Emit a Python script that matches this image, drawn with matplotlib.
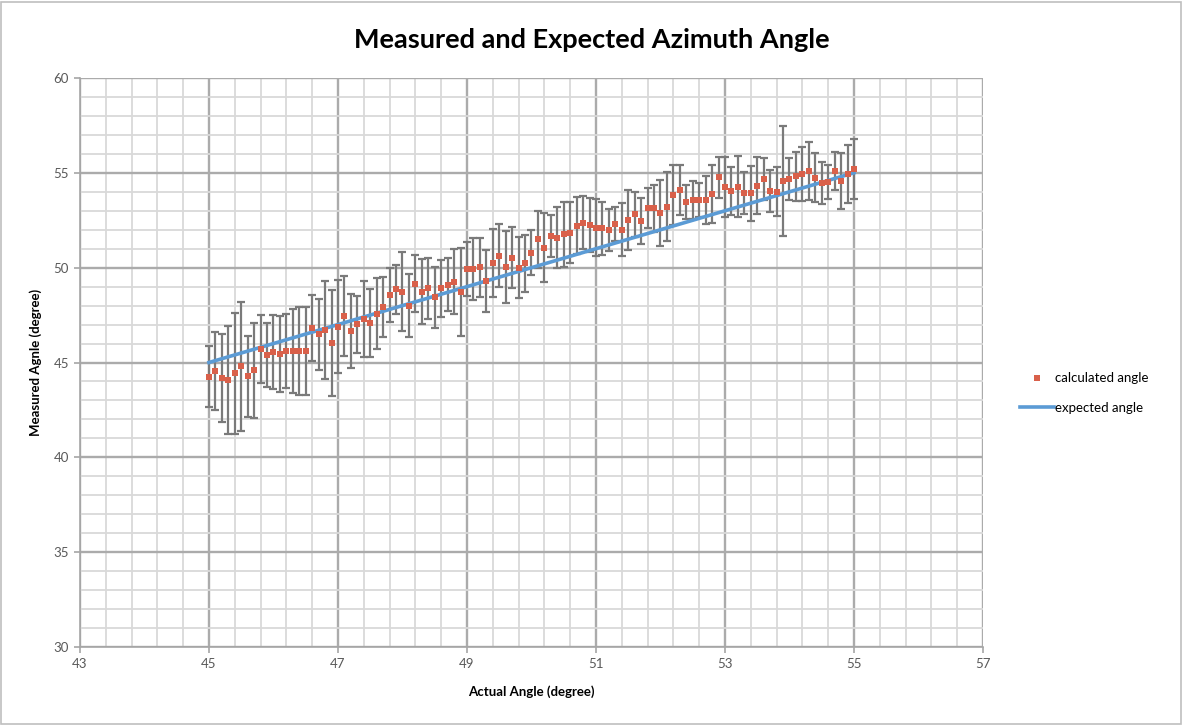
import matplotlib
matplotlib.use("Agg")
import matplotlib.pyplot as plt
from matplotlib.patches import Rectangle
from matplotlib.ticker import MultipleLocator

plt.rcParams['font.family'] = ['Lato', 'DejaVu Sans']

# actual angle (degree), one reading every 0.1 degree
actual = [45.0, 45.1, 45.2, 45.3, 45.4, 45.5, 45.6, 45.7, 45.8, 45.9,
          46.0, 46.1, 46.2, 46.3, 46.4, 46.5, 46.6, 46.7, 46.8, 46.9,
          47.0, 47.1, 47.2, 47.3, 47.4, 47.5, 47.6, 47.7, 47.8, 47.9,
          48.0, 48.1, 48.2, 48.3, 48.4, 48.5, 48.6, 48.7, 48.8, 48.9,
          49.0, 49.1, 49.2, 49.3, 49.4, 49.5, 49.6, 49.7, 49.8, 49.9,
          50.0, 50.1, 50.2, 50.3, 50.4, 50.5, 50.6, 50.7, 50.8, 50.9,
          51.0, 51.1, 51.2, 51.3, 51.4, 51.5, 51.6, 51.7, 51.8, 51.9,
          52.0, 52.1, 52.2, 52.3, 52.4, 52.5, 52.6, 52.7, 52.8, 52.9,
          53.0, 53.1, 53.2, 53.3, 53.4, 53.5, 53.6, 53.7, 53.8, 53.9,
          54.0, 54.1, 54.2, 54.3, 54.4, 54.5, 54.6, 54.7, 54.8, 54.9,
          55.0]

# calculated (measured) angle
calculated = [44.25, 44.57, 44.17, 44.08, 44.43, 44.80, 44.27, 44.59, 45.71, 45.40,
              45.56, 45.43, 45.60, 45.60, 45.60, 45.60, 46.81, 46.49, 46.72, 46.01,
              46.89, 47.45, 46.65, 47.01, 47.31, 47.10, 47.58, 47.93, 48.56, 48.86,
              48.74, 48.00, 49.16, 48.74, 48.91, 48.44, 48.91, 49.09, 49.26, 48.72,
              49.93, 49.93, 50.02, 49.30, 50.26, 50.63, 50.02, 50.53, 50.00, 50.23,
              50.79, 51.50, 51.06, 51.67, 51.58, 51.76, 51.85, 52.20, 52.37, 52.25,
              52.11, 52.08, 51.99, 52.30, 51.99, 52.51, 52.81, 52.46, 53.13, 53.13,
              52.87, 53.22, 53.83, 54.10, 53.48, 53.57, 53.57, 53.57, 53.87, 54.77,
              54.27, 54.06, 54.27, 53.92, 53.92, 54.32, 54.68, 54.06, 54.00, 54.57,
              54.68, 54.83, 54.94, 55.11, 54.75, 54.48, 54.53, 55.11, 54.57, 54.94,
              55.20]

# error (+/-) on each calculated angle
error = [1.60, 2.06, 2.33, 2.86, 3.20, 3.40, 2.15, 2.50, 1.80, 1.70,
         1.95, 2.00, 1.95, 2.20, 2.30, 2.30, 1.75, 1.86, 2.60, 2.80,
         2.46, 2.13, 1.95, 1.50, 2.00, 1.80, 1.86, 1.60, 1.40, 1.30,
         2.10, 1.65, 1.50, 1.70, 1.60, 1.60, 1.50, 1.40, 1.70, 2.30,
         1.40, 1.65, 1.56, 1.65, 1.80, 1.66, 1.90, 1.60, 1.60, 1.50,
         1.20, 1.50, 1.80, 1.10, 1.60, 1.70, 1.60, 1.50, 1.40, 1.40,
         1.50, 1.40, 1.10, 0.90, 1.40, 1.60, 1.20, 1.20, 1.06, 1.23,
         1.75, 1.84, 1.58, 1.30, 0.90, 1.00, 0.90, 1.25, 1.54, 1.08,
         1.58, 1.27, 1.62, 1.10, 1.46, 1.50, 1.12, 1.10, 1.30, 2.88,
         1.09, 1.29, 1.44, 1.53, 1.28, 1.11, 0.90, 1.00, 1.46, 1.53,
         1.57]

# expected angle equals the actual angle
expected = actual

x_ticks = [43, 45, 47, 49, 51, 53, 55, 57]
y_ticks = [30, 35, 40, 45, 50, 55, 60]

fig = plt.figure(figsize=(11.83, 7.25), dpi=100)
ax = fig.add_axes([0.0676, 0.1076, 0.7633, 0.7848])

# grid
ax.set_xlim(43, 57)
ax.set_ylim(30, 60)
ax.set_xticks(x_ticks)
ax.set_yticks(y_ticks)
ax.xaxis.set_minor_locator(MultipleLocator(0.4, offset=0.2))
ax.yaxis.set_minor_locator(MultipleLocator(1))
ax.grid(which='major', color='#ababab', linewidth=1.7, zorder=0)
ax.grid(which='minor', color='#d9d9d9', linewidth=1.3, zorder=0)
ax.set_axisbelow(True)

ax.errorbar(actual, calculated, yerr=error, fmt='none', ecolor='#7a7a7a',
            elinewidth=1.6, capsize=3.2, capthick=1.6, zorder=2)
ax.plot(actual, expected, color='#5b9bd5', linewidth=2.6, zorder=3,
        label='expected angle')
ax.plot(actual, calculated, linestyle='none', marker='s', markersize=4.4,
        color='#d9604a', markeredgewidth=0, zorder=4, label='calculated angle')

for side in ['top', 'right']:
    ax.spines[side].set_visible(False)
for side in ['left', 'bottom']:
    ax.spines[side].set_color('#a6a6a6')
    ax.spines[side].set_linewidth(1.2)
ax.tick_params(which='major', direction='out', length=4, width=1.2,
               color='#a6a6a6', labelsize=9.5, labelcolor='#595959', pad=4)
ax.tick_params(which='minor', length=0)

fig.text(0.5, 0.945, 'Measured and Expected Azimuth Angle', fontsize=19.5,
         fontweight='bold', ha='center', va='center')
ax.set_xlabel('Actual Angle (degree)', fontsize=9.5, fontweight='bold', labelpad=11)
ax.set_ylabel('Measured Agnle (degree)', fontsize=9.5, fontweight='bold', labelpad=8)

handles, labels = ax.get_legend_handles_labels()
ax.legend(handles[::-1], labels[::-1], loc='center left',
          bbox_to_anchor=(0.852, 0.458), bbox_transform=fig.transFigure,
          frameon=False, fontsize=9.5, numpoints=1, handlelength=2.6,
          handletextpad=0.1, labelspacing=1.3)

fig.patches.append(Rectangle((0.001, 0.002), 0.997, 0.995, transform=fig.transFigure,
                             fill=False, edgecolor='#bfbfbf', linewidth=1.2))

fig.savefig('out.png', dpi=100)
